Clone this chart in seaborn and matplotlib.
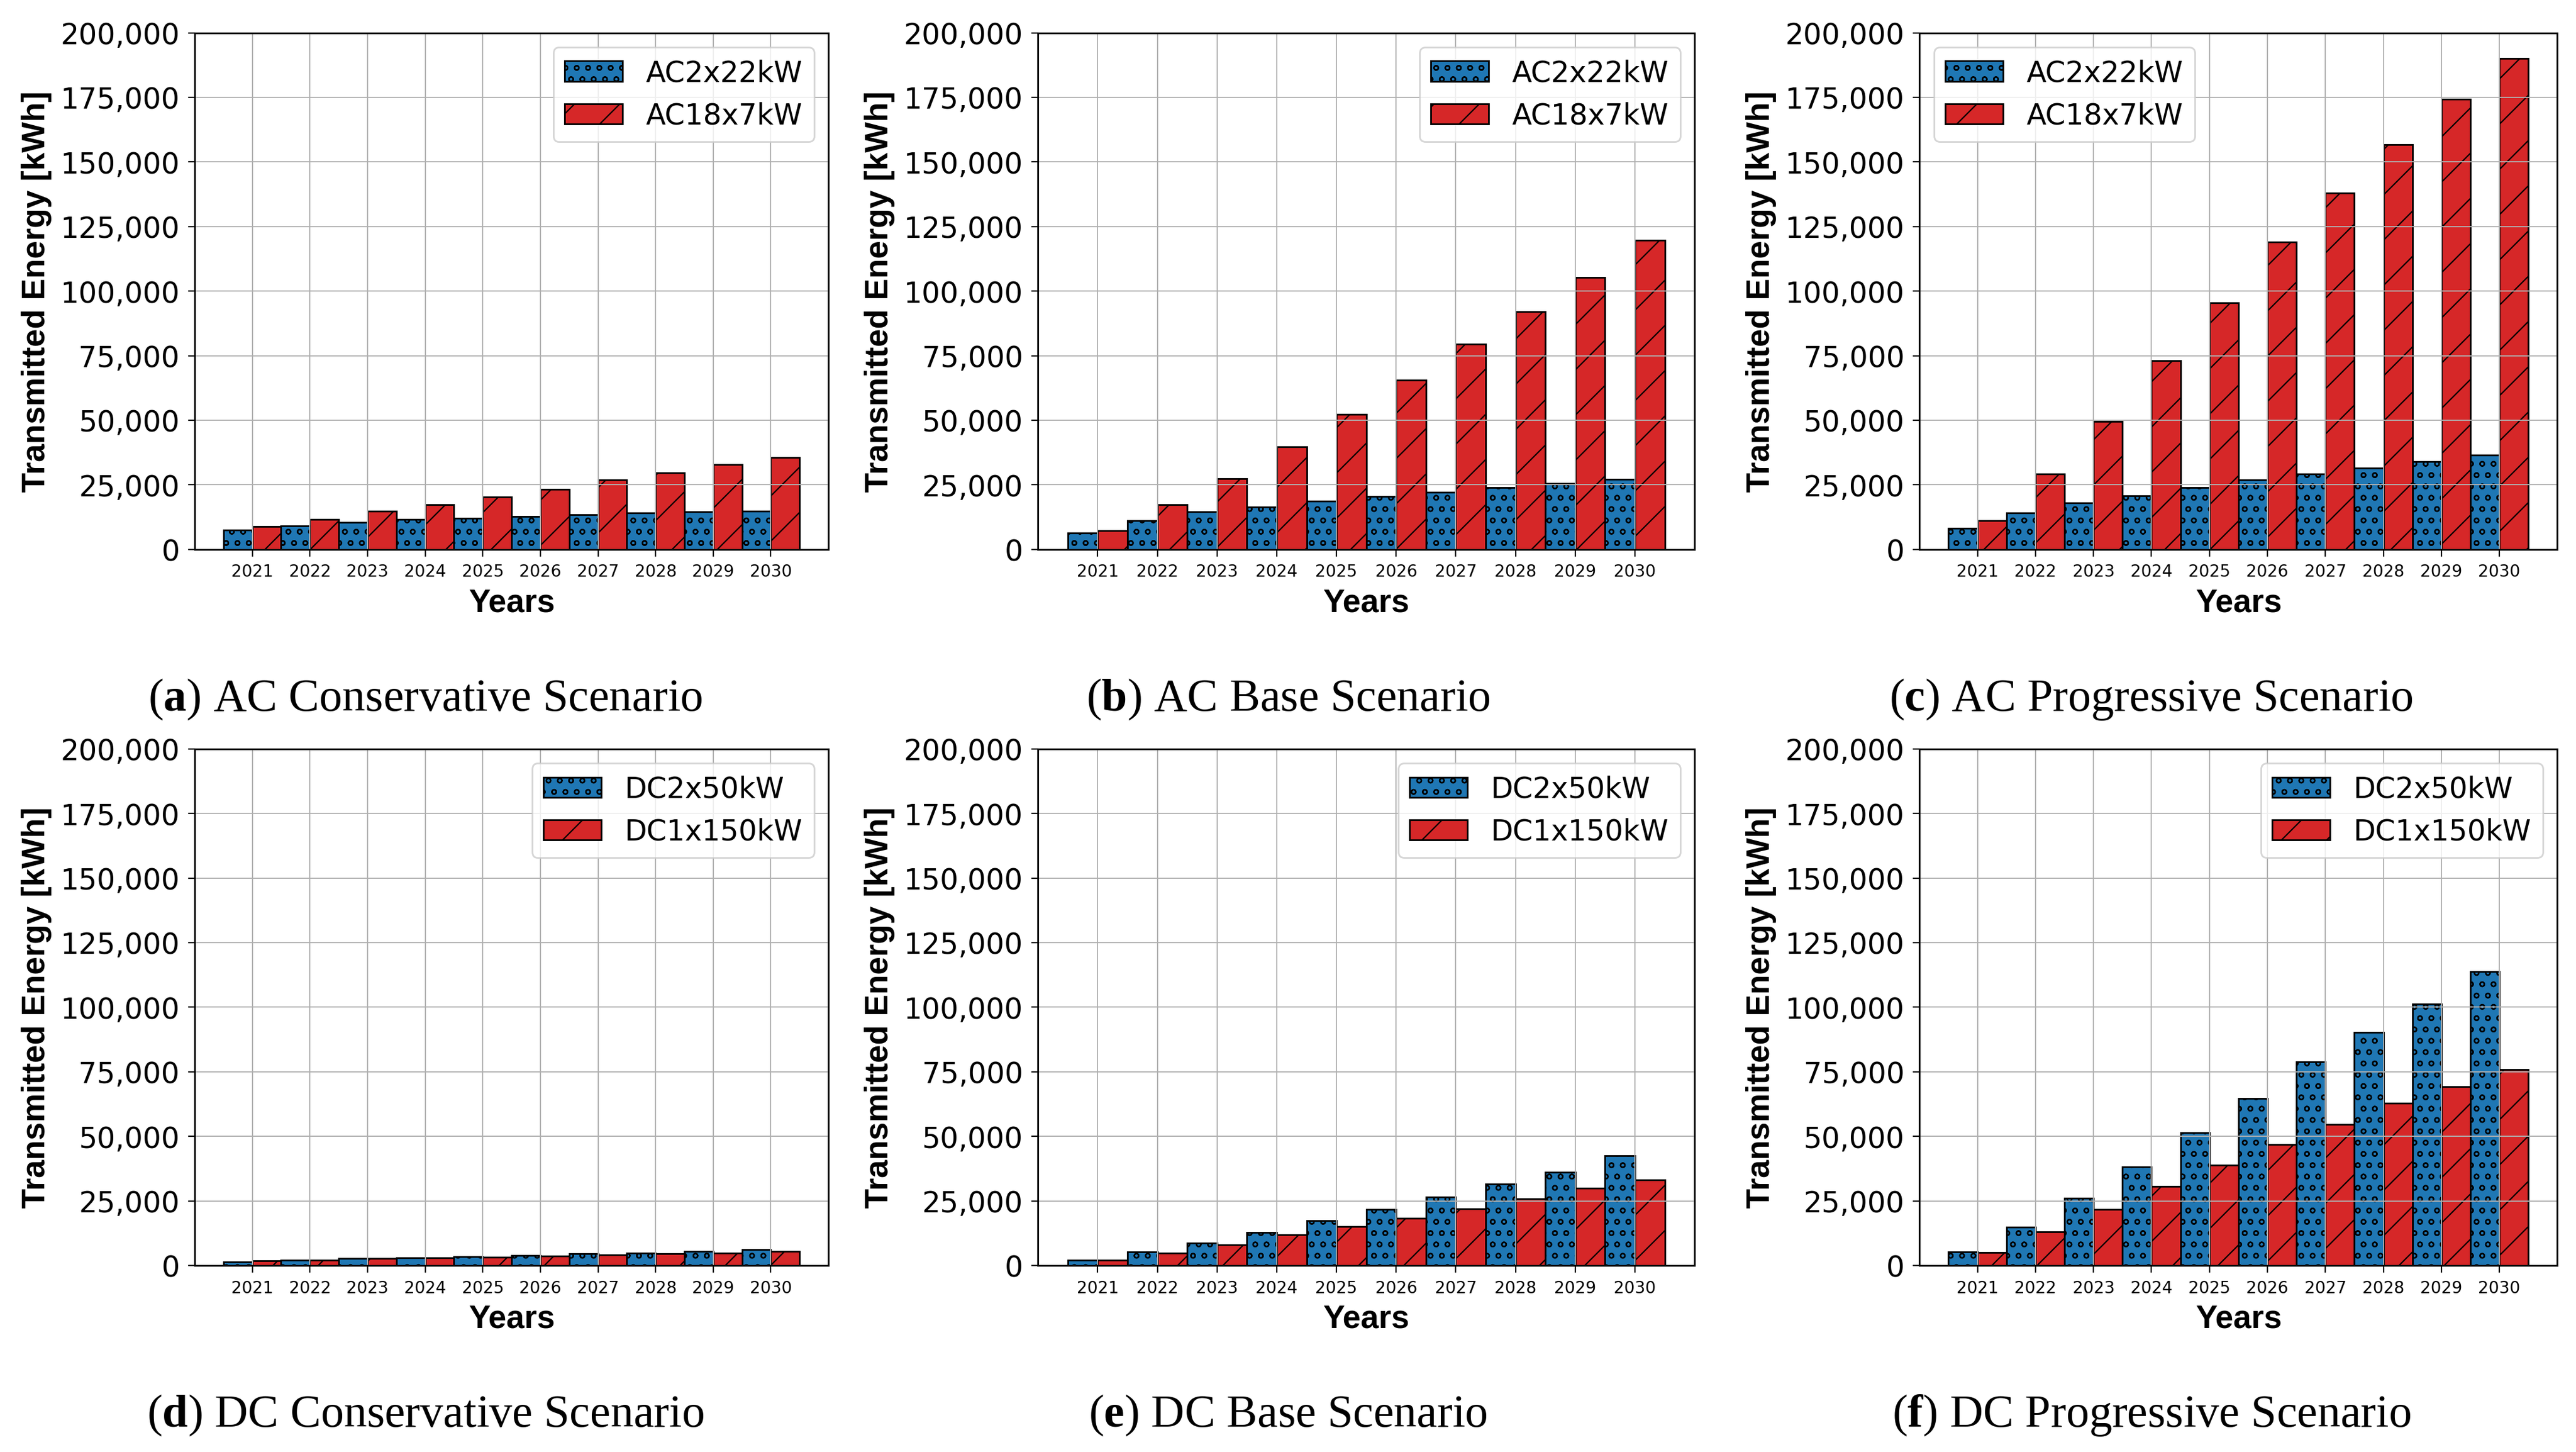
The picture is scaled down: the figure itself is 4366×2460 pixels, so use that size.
import matplotlib
matplotlib.use("Agg")
import matplotlib.pyplot as plt
import seaborn as sns
import pandas as pd
from matplotlib.ticker import StrMethodFormatter, MultipleLocator

# ---------------- data ----------------
years = [2021, 2022, 2023, 2024, 2025, 2026, 2027, 2028, 2029, 2030]
ac_types = ["AC2x22kW", "AC18x7kW"]
dc_types = ["DC2x50kW", "DC1x150kW"]

ac_cons_2x22 = [7500, 9000, 10400, 11500, 12000, 12700, 13400, 14000, 14500, 14900]
ac_cons_18x7 = [8800, 11500, 14700, 17200, 20300, 23300, 26900, 29600, 32800, 35700]

ac_base_2x22 = [6300, 11100, 14500, 16500, 18600, 20600, 22200, 24000, 25500, 27100]
ac_base_18x7 = [7200, 17200, 27400, 39800, 52200, 65600, 79500, 92000, 105300, 119600]

ac_prog_2x22 = [8200, 14000, 17900, 20800, 24000, 26900, 29100, 31400, 33900, 36600]
ac_prog_18x7 = [11100, 29100, 49500, 73000, 95400, 119100, 137900, 156800, 174300, 190000]

dc_cons_2x50 = [1400, 2100, 2700, 3000, 3400, 3800, 4500, 4700, 5400, 6100]
dc_cons_1x150 = [1800, 2000, 2700, 2900, 3200, 3600, 4100, 4600, 4800, 5400]

dc_base_2x50 = [2100, 5200, 8600, 12700, 17300, 21600, 26500, 31500, 36000, 42600]
dc_base_1x150 = [2000, 4800, 7900, 11800, 15000, 18200, 22000, 25900, 29900, 33100]

dc_prog_2x50 = [5200, 14800, 26100, 38100, 51500, 64600, 78900, 90300, 101300, 113800]
dc_prog_1x150 = [5000, 13100, 21600, 30600, 38800, 46900, 54700, 62800, 69200, 75800]

captions = ["a", "b", "c", "d", "e", "f"]
caption_texts = ["AC Conservative Scenario", "AC Base Scenario", "AC Progressive Scenario",
                 "DC Conservative Scenario", "DC Base Scenario", "DC Progressive Scenario"]

panels = [
    (ac_types, ac_cons_2x22, ac_cons_18x7),
    (ac_types, ac_base_2x22, ac_base_18x7),
    (ac_types, ac_prog_2x22, ac_prog_18x7),
    (dc_types, dc_cons_2x50, dc_cons_1x150),
    (dc_types, dc_base_2x50, dc_base_1x150),
    (dc_types, dc_prog_2x50, dc_prog_1x150),
]
legend_locs = ["upper right", "upper right", "upper left",
               "upper right", "upper right", "upper right"]

# ---------------- style ----------------
DPI = 460
W, H = 4366, 2460
plt.rcParams.update({
    "font.family": ["DejaVu Sans"],
    "mathtext.fontset": "custom",
    "mathtext.rm": "Liberation Serif",
    "mathtext.bf": "Liberation Serif:bold",
    "axes.linewidth": 0.45,
    "hatch.linewidth": 0.35,
    "xtick.major.size": 1.8,
    "ytick.major.size": 1.8,
    "xtick.major.width": 0.35,
    "ytick.major.width": 0.35,
    "xtick.major.pad": 2.0,
    "ytick.major.pad": 2.2,
})

blue = "#1f77b4"
red = "#d62728"

fig = plt.figure(figsize=((W + 0.4) / DPI, (H + 0.4) / DPI), dpi=DPI)

cols_px = [(330, 1404), (1759, 2872), (3253, 4334)]
rows_px = [(56, 931), (1269, 2144)]
cap_x = [721, 2183, 3646]
cap_y = [1204, 2417]

for i, (types, s1, s2) in enumerate(panels):
    r, c = divmod(i, 3)
    l, rr = cols_px[c]
    t, b = rows_px[r]
    ax = fig.add_axes([l / W, 1 - b / H, (rr - l) / W, (b - t) / H])

    df = pd.DataFrame({
        "Year": [str(y) for y in years] * 2,
        "Energy": s1 + s2,
        "Type": [types[0]] * len(years) + [types[1]] * len(years),
    })
    sns.barplot(data=df, x="Year", y="Energy", hue="Type", hue_order=types,
                palette=[blue, red], width=1.0, saturation=1, errorbar=None,
                edgecolor="black", linewidth=0.45, ax=ax, legend=False)

    hatches = ["oooo", "//"]
    for cont, h in zip(ax.containers, hatches):
        for p in cont.patches:
            p.set_hatch(h)

    ax.set_xlim(-1, len(years))
    ax.set_ylim(0, 200000)
    ax.yaxis.set_major_locator(MultipleLocator(25000))
    ax.yaxis.set_major_formatter(StrMethodFormatter("{x:,.0f}"))
    ax.tick_params(axis="y", labelsize=7.67)
    ax.tick_params(axis="x", labelsize=4.4)
    ax.grid(True, color="#b0b0b0", linewidth=0.3)
    ax.set_axisbelow("line")

    ax.set_xlabel("Years", fontfamily="Liberation Sans", fontweight="bold",
                  fontsize=8.6, labelpad=2.0)
    ax.set_ylabel("Transmitted Energy [kWh]", fontfamily="Liberation Sans",
                  fontweight="bold", fontsize=8.6, labelpad=2.3)

    leg = ax.legend(handles=list(ax.containers), labels=types, loc=legend_locs[i],
                    fontsize=7.67)
    leg.get_frame().set_linewidth(0.45)

    fig.text(cap_x[c] / W, 1 - cap_y[r] / H,
             r"($\mathbf{%s}$) %s" % (captions[i], caption_texts[i]),
             ha="center", va="baseline", fontsize=12.2,
             fontfamily="Liberation Serif")

fig.savefig("out.png", dpi=DPI)
